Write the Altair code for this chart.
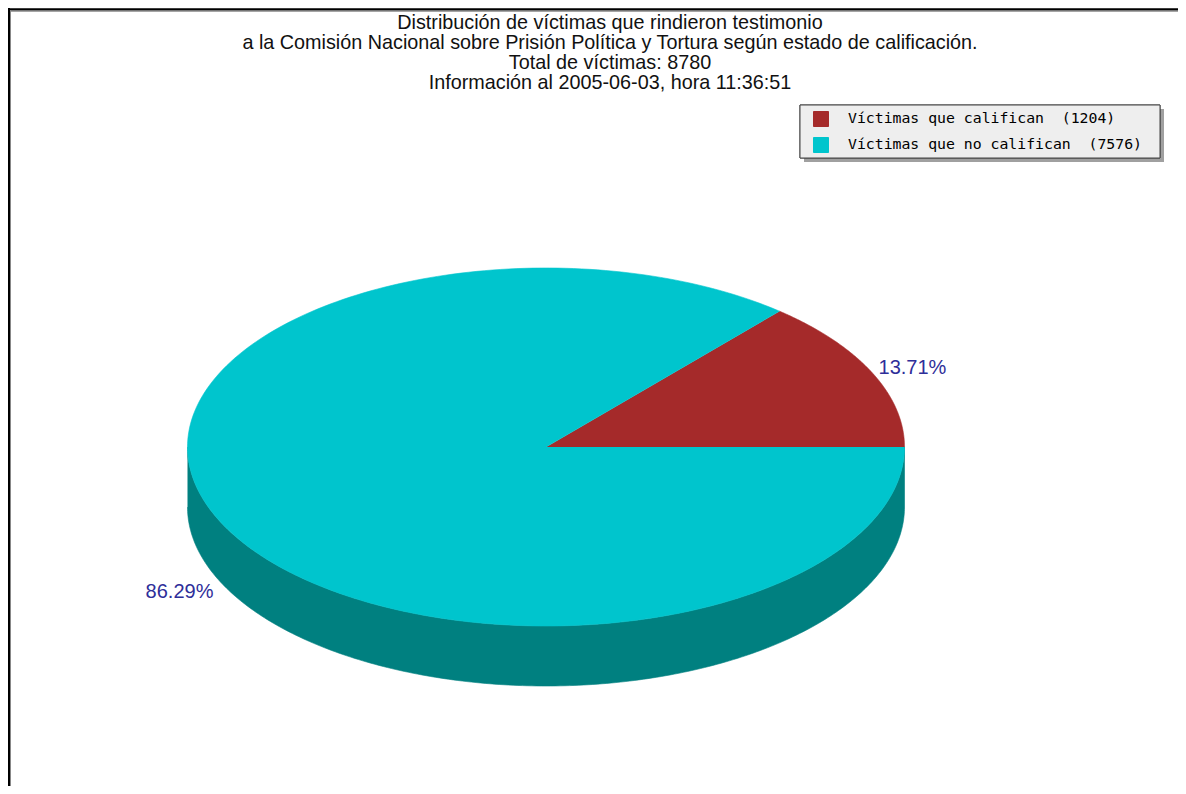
import altair as alt
import pandas as pd

# ---- data ----
estados = ["Víctimas que califican", "Víctimas que no califican"]
victimas = [1204, 7576]
titulo = [
    "Distribución de víctimas que rindieron testimonio",
    "a la Comisión Nacional sobre Prisión Política y Tortura según estado de calificación.",
    "Total de víctimas: 8780",
    "Información al 2005-06-03, hora 11:36:51",
]

# ---- styles / layout ----
colores_tapa = ["#A52A2A", "#00C5CD"]
colores_lado = ["#6B1A1A", "#008080"]
W, H = 1170, 778
CX, CY, RX, RY, DEPTH = 538, 439, 358.5, 179, 60
N = 240
NB = "\u00a0"
LX, LY, LW, LH = 792, 97, 360, 53  # legend box

df = pd.DataFrame({"estado": estados, "n": victimas, "orden": list(range(len(estados)))})
tdf = pd.DataFrame({"linea": titulo, "i": list(range(len(titulo)))})

xs = alt.Scale(domain=[0, W], nice=False, zero=False)
ys = alt.Scale(domain=[0, H], nice=False, zero=False, reverse=True)

base = (
    alt.Chart(df)
    .transform_joinaggregate(total="sum(n)")
    .transform_window(cum="sum(n)", sort=[alt.SortField("orden")], frame=[None, 0])
    .transform_calculate(a1="2*PI*datum.cum/datum.total")
    .transform_calculate(a0="2*PI*(datum.cum-datum.n)/datum.total")
    .transform_calculate(etiqueta=f'datum.estado + "{NB}{NB}(" + datum.n + ")"')
)

# side (3D depth) faces
side = (
    base.transform_calculate(s0="max(datum.a0, PI)")
    .transform_calculate(s1="min(datum.a1, 2*PI)")
    .transform_filter("datum.s1 > datum.s0")
    .transform_calculate(k=f"sequence(0, {2 * N + 2})")
    .transform_flatten(["k"])
    .transform_calculate(
        ang=f"datum.k <= {N} ? datum.s0 + datum.k/{N}*(datum.s1-datum.s0) : datum.s1 - (datum.k-{N + 1})/{N}*(datum.s1-datum.s0)"
    )
    .transform_calculate(off=f"datum.k <= {N} ? 0 : {DEPTH}")
    .transform_calculate(px=f"{CX} + {RX}*cos(datum.ang)")
    .transform_calculate(py=f"{CY} - {RY}*sin(datum.ang) + datum.off")
    .mark_line(strokeWidth=0.6)
    .encode(
        x=alt.X("px:Q", scale=xs, axis=None),
        y=alt.Y("py:Q", scale=ys, axis=None),
        order="k:Q",
        detail="estado:N",
        fill=alt.Fill("estado:N", scale=alt.Scale(domain=estados, range=colores_lado), legend=None),
        stroke=alt.Stroke("estado:N", scale=alt.Scale(domain=estados, range=colores_lado), legend=None),
    )
)

# top faces
top = (
    base.transform_calculate(k=f"sequence(0, {N + 2})")
    .transform_flatten(["k"])
    .transform_calculate(ang=f"datum.a0 + (datum.k-1)/{N}*(datum.a1-datum.a0)")
    .transform_calculate(px=f"datum.k == 0 ? {CX} : {CX} + {RX}*cos(datum.ang)")
    .transform_calculate(py=f"datum.k == 0 ? {CY} : {CY} - {RY}*sin(datum.ang)")
    .mark_line(strokeWidth=0.6)
    .encode(
        x=alt.X("px:Q", scale=xs, axis=None),
        y=alt.Y("py:Q", scale=ys, axis=None),
        order="k:Q",
        detail="estado:N",
        fill=alt.Fill(
            "etiqueta:N",
            scale=alt.Scale(range=colores_tapa),
            legend=alt.Legend(
                title=None,
                orient="none",
                legendX=LX,
                legendY=LY + 1,
                direction="vertical",
                padding=5,
                symbolType="square",
                symbolSize=225,
                symbolStrokeColor="black",
                symbolStrokeWidth=1,
                symbolOffset=8,
                labelFont="DejaVu Sans Mono",
                labelFontSize=14.8,
                labelColor="black",
                labelOffset=19,
                labelLimit=0,
                rowPadding=6,
            ),
        ),
        stroke=alt.Stroke("etiqueta:N", scale=alt.Scale(range=colores_tapa), legend=None),
    )
)

# percentage labels
labels = (
    base.transform_calculate(mid="(datum.a0+datum.a1)/2")
    .transform_calculate(lx=f"{CX} + {1.125 * RX}*cos(datum.mid)")
    .transform_calculate(ly=f"{CY} - {1.06 * RY}*sin(datum.mid) + (sin(datum.mid) < 0 ? {DEPTH + 6} : 0)")
    .transform_calculate(pct="format(100*datum.n/datum.total, '.2f') + '%'")
    .mark_text(font="Liberation Sans", fontSize=20, color="#2E2E99")
    .encode(
        x=alt.X("lx:Q", scale=xs, axis=None),
        y=alt.Y("ly:Q", scale=ys, axis=None),
        text="pct:N",
    )
)

# title lines
title = (
    alt.Chart(tdf)
    .transform_calculate(ty="14.5 + datum.i*20.3")
    .mark_text(font="Liberation Sans", fontSize=19.8, color="#111111", align="center", baseline="middle")
    .encode(
        x=alt.value(602),
        y=alt.Y("ty:Q", scale=ys, axis=None),
        text="linea:N",
    )
)

# legend box, shadow and image border
shadow = alt.Chart(df).mark_rect(color="#A0A0A0").encode(
    x=alt.value(LX + 4), x2=alt.value(LX + LW + 4), y=alt.value(LY + 4), y2=alt.value(LY + LH + 4)
)
box = alt.Chart(df).mark_rect(fill="#EEEEEE", stroke="#444444", strokeWidth=1).encode(
    x=alt.value(LX), x2=alt.value(LX + LW), y=alt.value(LY), y2=alt.value(LY + LH)
)
border_top = alt.Chart(df).mark_rule(color="black", strokeWidth=2).encode(
    x=alt.value(0), x2=alt.value(W), y=alt.value(1.5)
)
border_top2 = alt.Chart(df).mark_rule(color="#888888", strokeWidth=1).encode(
    x=alt.value(2), x2=alt.value(W), y=alt.value(3)
)
border_left = alt.Chart(df).mark_rule(color="black", strokeWidth=2).encode(
    x=alt.value(1), y=alt.value(0), y2=alt.value(H)
)
border_left2 = alt.Chart(df).mark_rule(color="#888888", strokeWidth=1).encode(
    x=alt.value(2.5), y=alt.value(2), y2=alt.value(H)
)

chart = (
    alt.layer(border_top, border_top2, border_left, border_left2, shadow, box, side, top, labels, title)
    .resolve_scale(fill="independent", stroke="independent")
    .properties(width=W, height=H, padding=0, autosize=alt.AutoSizeParams(type="none"), background="white")
    .configure_view(strokeWidth=0)
)

chart.save("out.html", embed_options={"renderer": "svg", "actions": False})
